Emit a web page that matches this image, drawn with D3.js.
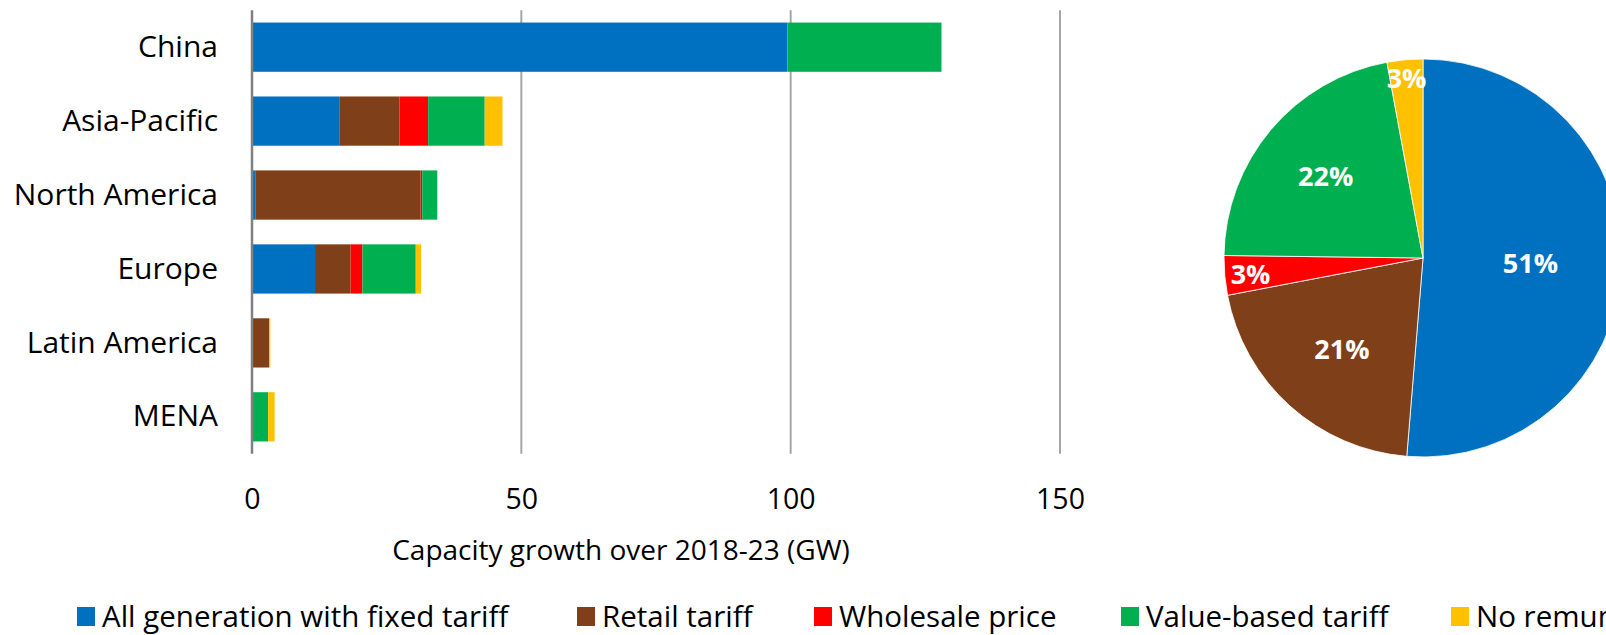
<!DOCTYPE html>
<html>
<head>
<meta charset="utf-8">
<script src="https://cdn.jsdelivr.net/npm/d3@7"></script>
<style>
  html, body { margin: 0; padding: 0; background: #fff; overflow: hidden; }
  text { font-family: "Open Sans", "Noto Sans", sans-serif; }
</style>
</head>
<body>
<svg id="chart" width="1606" height="635"></svg>
<script>
// ---- data ----
const categories = ["China", "Asia-Pacific", "North America", "Europe", "Latin America", "MENA"];
const seriesNames = ["All generation with fixed tariff", "Retail tariff", "Wholesale price", "Value-based tariff", "No remuneration"];
const fixedTariff    = [99.4, 16.3, 0.7, 11.7, 0.0, 0.0];
const retailTariff   = [0.0, 11.1, 30.6, 6.6, 3.2, 0.0];
const wholesalePrice = [0.0, 5.3, 0.3, 2.2, 0.0, 0.0];
const valueBased     = [28.6, 10.5, 2.8, 9.9, 0.0, 3.0];
const noRemuneration = [0.0, 3.3, 0.0, 1.0, 0.2, 1.2];
const xTicks = [0, 50, 100, 150];
const xTitle = "Capacity growth over 2018-23 (GW)";
const pieShares = [51.3, 20.7, 3.2, 21.9, 2.9];

// ---- styles / layout ----
const colors = ["#0070C0", "#7F3F18", "#FF0000", "#00B050", "#FFC000"];
const pieLabelRadius = [0.54, 0.61, 0.87, 0.64, 0.91];
const legendX = [77, 577, 814, 1121, 1451];

const svg = d3.select("#chart");
svg.append("rect").attr("width", 1606).attr("height", 635).attr("fill", "#fff");

const x = d3.scaleLinear().domain([0, 150]).range([252, 1060]);
const y = d3.scaleBand().domain(categories).range([10.2, 453.8]).paddingInner(0.334).paddingOuter(0.167);

// gridlines
svg.append("g").selectAll("line").data(xTicks.filter(t => t > 0)).join("line")
  .attr("x1", d => x(d)).attr("x2", d => x(d))
  .attr("y1", 10.2).attr("y2", 453.8)
  .attr("stroke", "#A6A6A6").attr("stroke-width", 2);

// stacked bars
const seriesArrays = [fixedTariff, retailTariff, wholesalePrice, valueBased, noRemuneration];
const rows = categories.map((c, i) => {
  const r = { cat: c };
  seriesNames.forEach((s, j) => r[s] = seriesArrays[j][i]);
  return r;
});
const stack = d3.stack().keys(seriesNames)(rows);
svg.append("g").selectAll("g").data(stack).join("g")
  .attr("fill", (d, i) => colors[i])
  .selectAll("rect").data(d => d).join("rect")
  .attr("x", d => x(d[0]))
  .attr("width", d => Math.max(0, x(d[1]) - x(d[0])))
  .attr("y", d => y(d.data.cat))
  .attr("height", y.bandwidth());

// zero axis line
svg.append("line").attr("x1", x(0)).attr("x2", x(0)).attr("y1", 10.2).attr("y2", 453.8)
  .attr("stroke", "#808080").attr("stroke-width", 2.5);

// x axis tick labels
const xAxis = d3.axisBottom(x).tickValues(xTicks).tickSize(0).tickPadding(0).tickFormat(d3.format("d"));
const gx = svg.append("g").attr("transform", "translate(0,489)").call(xAxis);
gx.select(".domain").remove();
gx.selectAll("text").attr("font-size", 28.5).attr("fill", "#000").attr("font-family", "Open Sans");

// axis title
svg.append("text").attr("x", 621).attr("y", 549).attr("text-anchor", "middle")
  .attr("dominant-baseline", "central").attr("font-size", 28).attr("fill", "#000").text(xTitle);

// category labels
const yAxis = d3.axisLeft(y).tickSize(0).tickPadding(0);
const gy = svg.append("g").attr("transform", "translate(218,0)").call(yAxis);
gy.select(".domain").remove();
gy.selectAll("text").attr("font-size", 30).attr("fill", "#000").attr("font-family", "Open Sans");

// pie
const cx = 1423, cy = 258, R = 199;
const pie = d3.pie().sort(null).value(d => d)(pieShares);
const arc = d3.arc().innerRadius(0).outerRadius(R);
const pg = svg.append("g").attr("transform", `translate(${cx},${cy})`);
pg.selectAll("path").data(pie).join("path")
  .attr("d", arc).attr("fill", (d, i) => colors[i])
  .attr("stroke", "#fff").attr("stroke-width", 0.8);
pg.selectAll("text").data(pie).join("text")
  .attr("transform", (d, i) => {
    const a = (d.startAngle + d.endAngle) / 2;
    const rr = R * pieLabelRadius[i];
    return `translate(${rr * Math.sin(a)},${-rr * Math.cos(a)})`;
  })
  .attr("text-anchor", "middle").attr("dominant-baseline", "central")
  .attr("font-size", 27).attr("font-weight", "bold").attr("fill", "#fff")
  .text(d => Math.round(d.data) + "%");

// legend
const lg = svg.append("g");
seriesNames.forEach((s, i) => {
  lg.append("rect").attr("x", legendX[i]).attr("y", 607).attr("width", 18).attr("height", 19).attr("fill", colors[i]);
  lg.append("text").attr("x", legendX[i] + 25).attr("y", 615).attr("dominant-baseline", "central")
    .attr("font-size", 29.5).attr("fill", "#000").text(s);
});
</script>
</body>
</html>
